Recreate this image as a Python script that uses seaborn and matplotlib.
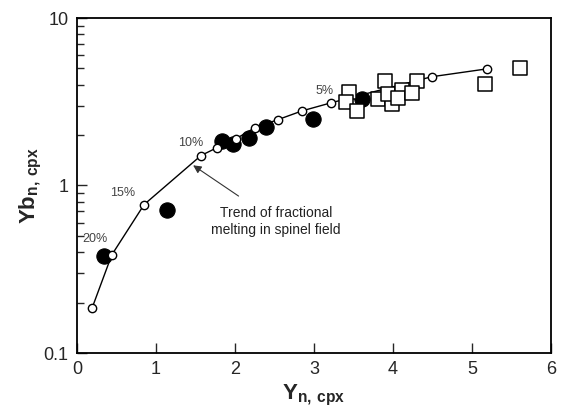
import matplotlib
matplotlib.use("Agg")
import matplotlib.pyplot as plt
import seaborn as sns
import numpy as np
import pandas as pd

# Trend of fractional melting (open circles with line)
trend_x = [0.19, 0.44, 0.85, 1.57, 1.77, 2.01, 2.25, 2.54, 2.85, 3.22, 4.49, 5.19]
trend_y = [0.185, 0.385, 0.77, 1.51, 1.68, 1.90, 2.21, 2.47, 2.79, 3.12, 4.46, 4.97]

# Filled circles
circ_x = [0.34, 1.14, 1.84, 1.98, 2.18, 2.39, 2.99, 3.61]
circ_y = [0.378, 0.71, 1.85, 1.78, 1.93, 2.24, 2.51, 3.30]

# Open squares
sq_x = [3.44, 3.41, 3.54, 3.81, 3.90, 3.99, 3.94, 4.11, 4.06, 4.30, 4.24, 5.16, 5.61]
sq_y = [3.63, 3.16, 2.79, 3.30, 4.22, 3.08, 3.53, 3.73, 3.34, 4.22, 3.58, 4.05, 5.04]

pct_labels = ["20%", "15%", "10%", "5%"]
pct_x = [0.23, 0.58, 1.44, 3.13]
pct_y = [0.477, 0.896, 1.80, 3.68]

sns.set_style("ticks")
plt.rcParams['font.family'] = ['Liberation Sans', 'DejaVu Sans']
plt.rcParams['mathtext.fontset'] = 'custom'
plt.rcParams['mathtext.rm'] = 'Liberation Sans'
plt.rcParams['mathtext.bf'] = 'Liberation Sans:bold'

fig = plt.figure(figsize=(5.62, 4.11), dpi=100)
ax = fig.add_axes([77/562, 1 - 353/411, (551 - 77)/562, (353 - 18)/411])

trend = pd.DataFrame({"x": trend_x, "y": trend_y})
circ = pd.DataFrame({"x": circ_x, "y": circ_y})
sq = pd.DataFrame({"x": sq_x, "y": sq_y})

sns.scatterplot(data=circ, x="x", y="y", ax=ax, marker="o", s=11**2,
                color="black", edgecolor="black", linewidth=0.8, zorder=2)
sns.lineplot(data=trend, x="x", y="y", ax=ax, color="black", linewidth=1.0,
             marker="o", markersize=6, markerfacecolor="white",
             markeredgecolor="black", markeredgewidth=1.0, sort=False,
             estimator=None, zorder=3)
sns.scatterplot(data=sq, x="x", y="y", ax=ax, marker="s", s=10.5**2,
                facecolor="white", edgecolor="black", linewidth=1.1, zorder=4)

for t, x, y in zip(pct_labels, pct_x, pct_y):
    ax.text(x, y, t, fontsize=9, color="#444444", ha="center", va="center")

ax.annotate("Trend of fractional\nmelting in spinel field", xy=(1.47, 1.32),
            xytext=(2.52, 0.61), fontsize=10, color="#222222", ha="center", va="center",
            arrowprops=dict(arrowstyle="-|>", color="#333333", lw=0.8,
                            mutation_scale=12, shrinkA=9, shrinkB=0))

ax.set_yscale("log")
ax.set_xlim(0, 6)
ax.set_ylim(0.1, 10)
ax.set_xticks([0, 1, 2, 3, 4, 5, 6])
ax.set_yticks([0.1, 1, 10])
ax.set_yticklabels(["0.1", "1", "10"])
ax.tick_params(axis="both", which="major", direction="in", length=7, width=1.0,
               labelsize=13, top=False, right=False, pad=6)
ax.tick_params(axis="y", which="minor", direction="in", length=5, width=1.0,
               right=False)
ax.tick_params(axis="x", which="minor", bottom=False, top=False)

for s in ax.spines.values():
    s.set_linewidth(1.3)
    s.set_color("black")

ax.set_xlabel(r"$\mathbf{Y}_{\mathbf{n,\,cpx}}$", fontsize=16, labelpad=3)
ax.set_ylabel(r"$\mathbf{Yb}_{\mathbf{n,\,cpx}}$", fontsize=16, labelpad=0)

fig.savefig("out.png", dpi=100)
